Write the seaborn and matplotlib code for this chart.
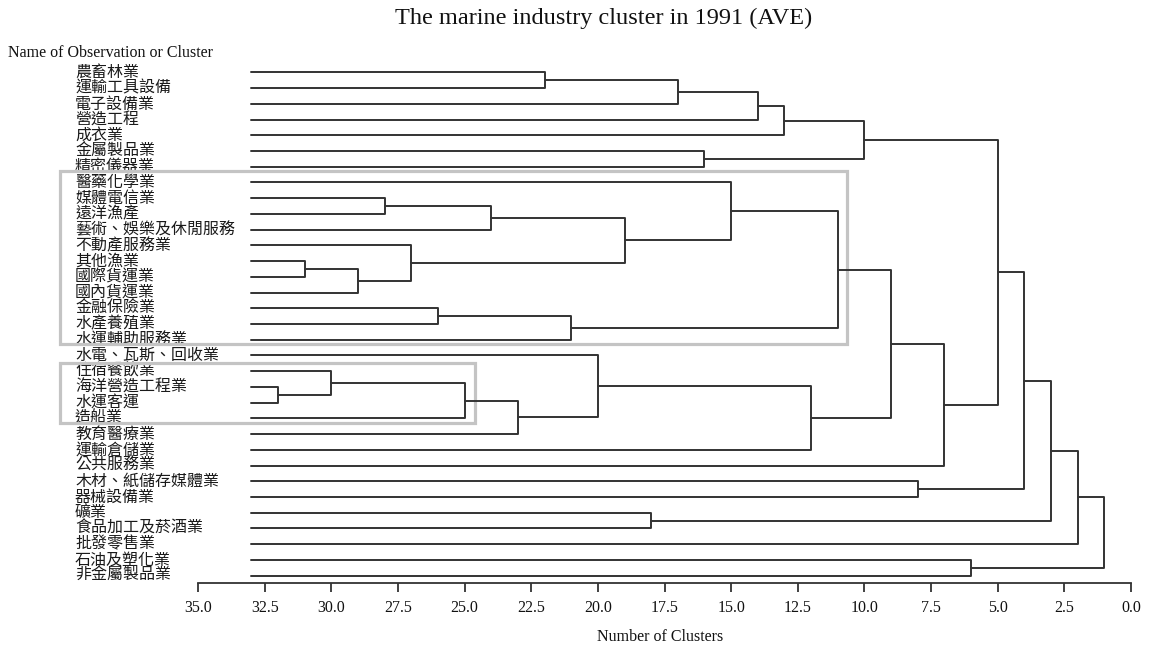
import numpy as np
import pandas as pd
import seaborn as sns
import matplotlib.pyplot as plt
from matplotlib.patches import Rectangle
from matplotlib.transforms import blended_transform_factory

# industries in the order they are drawn, top to bottom
industries = [
    "農畜林業", "運輸工具設備", "電子設備業", "營造工程", "成衣業",
    "金屬製品業", "精密儀器業", "醫藥化學業", "媒體電信業", "遠洋漁產",
    "藝術、娛樂及休閒服務", "不動產服務業", "其他漁業", "國際貨運業", "國內貨運業",
    "金融保險業", "水產養殖業", "水運輔助服務業", "水電、瓦斯、回收業", "住宿餐飲業",
    "海洋營造工程業", "水運客運", "造船業", "教育醫療業", "運輸倉儲業",
    "公共服務業", "木材、紙儲存媒體業", "器械設備業", "礦業", "食品加工及菸酒業",
    "批發零售業", "石油及塑化業", "非金屬製品業",
]

# agglomeration steps (AVE linkage): ids 0-32 are industries,
# id 33 + k is the cluster made at step k
join_a = [20, 12, 19, 14, 8, 11, 15, 35, 37, 40, 0, 39, 18, 41, 28, 43,
          5, 7, 48, 51, 45, 50, 52, 54, 26, 56, 31, 55, 60, 61, 62, 63]
join_b = [21, 13, 33, 34, 9, 36, 16, 22, 10, 23, 1, 17, 42, 38, 29, 2,
          6, 46, 3, 4, 24, 44, 49, 53, 27, 25, 32, 58, 57, 47, 30, 59]
n_clusters = list(range(32, 0, -1))

# highlighted groups: (first row, last row, number of clusters at right edge)
boxes = [(6.27, 17.27, 10.65), (18.48, 22.3, 24.6)]

# build the dendrogram segments
node_x = [len(industries)] * len(industries)
node_y = list(range(len(industries)))
rows = []
for k, (a, b, h) in enumerate(zip(join_a, join_b, n_clusters)):
    path = [(node_x[a], node_y[a]), (h, node_y[a]), (h, node_y[b]), (node_x[b], node_y[b])]
    for px, py in path:
        rows.append({"seg": k, "x": px, "y": py})
    node_x.append(h)
    node_y.append((node_y[a] + node_y[b]) / 2)
seg_df = pd.DataFrame(rows)

sns.set_theme(style="white")
plt.rcParams["font.family"] = ["Liberation Serif", "DejaVu Serif"]

fig = plt.figure(figsize=(11.51, 6.48), dpi=100)
ax = fig.add_axes([198 / 1151, 65 / 648, 933 / 1151, 518 / 648])

sns.lineplot(data=seg_df, x="x", y="y", units="seg", estimator=None, sort=False,
             color="#333333", linewidth=1.4, ax=ax, zorder=3)

ax.set_xlim(35, 0)
ax.set_ylim(len(industries) - 0.53, -0.47)
ax.set_xlabel("")
ax.set_ylabel("")
ax.set_yticks([])
ticks = np.arange(0, 35.01, 2.5)
ax.set_xticks(ticks)
ax.set_xticklabels([f"{t:.1f}" for t in ticks])
ax.tick_params(axis="x", bottom=True, direction="out", length=6.5, width=1.3, pad=6,
               labelsize=11.5, colors="#333333", labelcolor="#111111")
sns.despine(ax=ax, left=True)
ax.spines["bottom"].set_color("#333333")
ax.spines["bottom"].set_linewidth(1.3)

trans = blended_transform_factory(ax.transAxes, ax.transData)
for i, name in enumerate(industries):
    ax.text(-0.1318, i, name, transform=trans, ha="left", va="center",
            fontsize=11.5, color="#1a1a1a", zorder=1, clip_on=False,
            family=["Noto Sans CJK TC", "DejaVu Sans"])

left_x = 35 + (198 - 60) / (933 / 35)
for top, bottom, right in boxes:
    ax.add_patch(Rectangle((right, top), left_x - right, bottom - top, fill=False,
                           edgecolor="#c4c4c4", linewidth=2.3, zorder=2, clip_on=False))

fig.text(604 / 1151, 1 - 18 / 648, "The marine industry cluster in 1991 (AVE)",
         ha="center", va="center", fontsize=17.5, color="#111111")
fig.text(8 / 1151, 1 - 53 / 648, "Name of Observation or Cluster",
         ha="left", va="center", fontsize=11.5, color="#111111")
fig.text(660 / 1151, 1 - 637 / 648, "Number of Clusters",
         ha="center", va="center", fontsize=11.5, color="#111111")

fig.savefig("out.png", dpi=100)
